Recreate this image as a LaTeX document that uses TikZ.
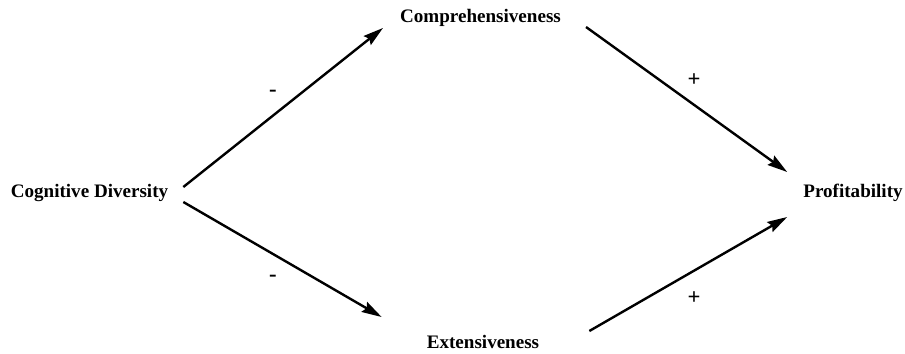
\documentclass[tikz,border=0pt]{standalone}
\usepackage{fontspec}
\setmainfont{Liberation Serif}
\usepackage{tikz}
\usetikzlibrary{arrows.meta}

\begin{document}
\begin{tikzpicture}[x=0.75pt, y=-0.75pt, line width=1.8pt,
    >={Stealth[length=15pt, width=8.5pt, inset=2pt]},
    main/.style = {inner sep=0pt, anchor=base, font=\fontsize{14.3}{17}\selectfont\bfseries},
    sign/.style = {inner sep=0pt, font=\fontsize{17}{20}\selectfont\bfseries}]

    \useasboundingbox (0,0) rectangle (905,353);

    \node [main] (cogdiv) at (89.5, 197) {Cognitive Diversity};
    \node [main] (compr) at (480.5, 23) {Comprehensiveness};
    \node [main] (extens) at (483, 348) {Extensiveness};
    \node [main] (profit) at (853, 197) {Profitability};

    \node [sign] (minus1) at (273, 93) {-};
    \node [sign] (minus2) at (273, 278) {-};
    \node [sign] (plus1) at (694, 80) {+};
    \node [sign] (plus2) at (694, 298) {+};

    \draw[->] ([shift={(14,-10)}]cogdiv.base east) to ([shift={(-16,5)}]compr.base west);
    \draw[->] ([shift={(14,5)}]cogdiv.base east) to ([shift={(-44,-31)}]extens.base west);
    \draw[->] ([shift={(24,4)}]compr.base east) to ([shift={(-15,-25)}]profit.base west);
    \draw[->] ([shift={(49,-17)}]extens.base east) to ([shift={(-15,20)}]profit.base west);

\end{tikzpicture}
\end{document}
